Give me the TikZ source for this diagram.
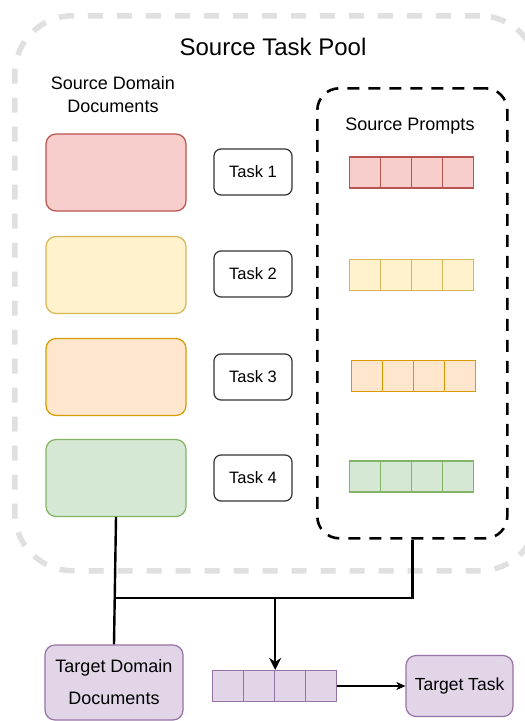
\documentclass[tikz,border=0pt]{standalone}
\usepackage{fontspec}
\setmainfont{Liberation Sans}
\usetikzlibrary{arrows.meta}
\definecolor{redF}{HTML}{F8CECC}\definecolor{redD}{HTML}{B85450}
\definecolor{yelF}{HTML}{FFF2CC}\definecolor{yelD}{HTML}{D6B656}
\definecolor{oraF}{HTML}{FFE6CC}\definecolor{oraD}{HTML}{D79B00}
\definecolor{grnF}{HTML}{D5E8D4}\definecolor{grnD}{HTML}{82B366}
\definecolor{purF}{HTML}{E1D5E7}\definecolor{purD}{HTML}{9673A6}
\definecolor{poolgray}{HTML}{E0E0E0}
\begin{document}
\begin{tikzpicture}[x=1pt,y=-1pt,
  doc/.style={draw, rounded corners=10pt, minimum width=140pt, minimum height=77pt, line width=1.2pt, inner sep=0pt},
  taskbox/.style={draw=black!80, rounded corners=7pt, minimum width=78pt, minimum height=46pt, line width=1.2pt, font=\fontsize{16.5}{19}\selectfont, inner sep=0pt},
  cell/.style={draw, minimum width=31pt, minimum height=31pt, line width=1.2pt, inner sep=0pt, anchor=west},
  lbl/.style={font=\fontsize{18}{23}\selectfont, align=center, inner sep=0pt},
  conn/.style={draw=black, line width=2.4pt},
]
\useasboundingbox (0,0) rectangle (525,721);
\fill[white] (0,0) rectangle (525,721);
% outer source task pool
\begin{scope}
\clip (0,0) rectangle (525,721);
\node[draw=poolgray, line width=5.5pt, dash pattern=on 15pt off 14pt, rounded corners=58pt,
  minimum width=523pt, minimum height=555pt, anchor=north west, inner sep=0pt] (pool) at (12,13) {};
\end{scope}
\node[font=\fontsize{24}{28}\selectfont, inner sep=0pt] (title) at (273,47) {Source Task Pool};
\node[lbl] (sdd) at (113,95) {Source Domain\\Documents};

% source prompts box
\node[draw=black, line width=2.6pt, dash pattern=on 12pt off 9pt, rounded corners=22pt,
  minimum width=190pt, minimum height=450pt, anchor=north west, inner sep=0pt] (srcbox) at (316,87) {};
\node[lbl] (sp) at (410,126) {Source Prompts};

% documents
\node[doc, fill=redF, draw=redD] (d1) at (116,172.5) {};
\node[doc, fill=yelF, draw=yelD] (d2) at (116,275) {};
\node[doc, fill=oraF, draw=oraD] (d3) at (116,377) {};
\node[doc, fill=grnF, draw=grnD] (d4) at (116,478) {};

% tasks
\node[taskbox] (t1) at (253,172) {Task 1};
\node[taskbox] (t2) at (253,274) {Task 2};
\node[taskbox] (t3) at (253,377) {Task 3};
\node[taskbox] (t4) at (253,478) {Task 4};

% prompts
\foreach \i in {0,1,2,3}{
  \node[cell, fill=redF, draw=redD] (pa\i) at (349+31*\i,172.5) {};
  \node[cell, fill=yelF, draw=yelD] (pb\i) at (349+31*\i,275) {};
  \node[cell, fill=oraF, draw=oraD] (pc\i) at (351+31*\i,376) {};
  \node[cell, fill=grnF, draw=grnD] (pd\i) at (349+31*\i,476.5) {};
  \node[cell, fill=purF, draw=purD] (pt\i) at (212+31*\i,686) {};
}

% target
\node[doc, fill=purF, draw=purD, minimum width=138pt, minimum height=75pt, lbl,
  font=\fontsize{18}{32}\selectfont] (tdd) at (114,682.5) {Target Domain\\Documents};
\node[draw=purD, fill=purF, rounded corners=10pt, line width=1.2pt, minimum width=107pt, minimum height=61pt,
  font=\fontsize{17.5}{21}\selectfont, inner sep=0pt] (tt) at (459.5,686) {Target Task};

% connectors
\coordinate (jl) at (116,598);
\coordinate (jm) at (pt1.east |- jl);
\draw[conn] (d4.south) -- (tdd.north);
\draw[conn] (srcbox.south) |- (jl);
\draw[conn, -{Stealth[length=12pt,width=12pt,inset=4pt]}] (jm) -- (pt1.north east);
\draw[line width=1.3pt, -{Stealth[length=9pt,width=8pt,inset=2.5pt]}] (pt3.east) -- (tt.west);
\end{tikzpicture}
\end{document}
